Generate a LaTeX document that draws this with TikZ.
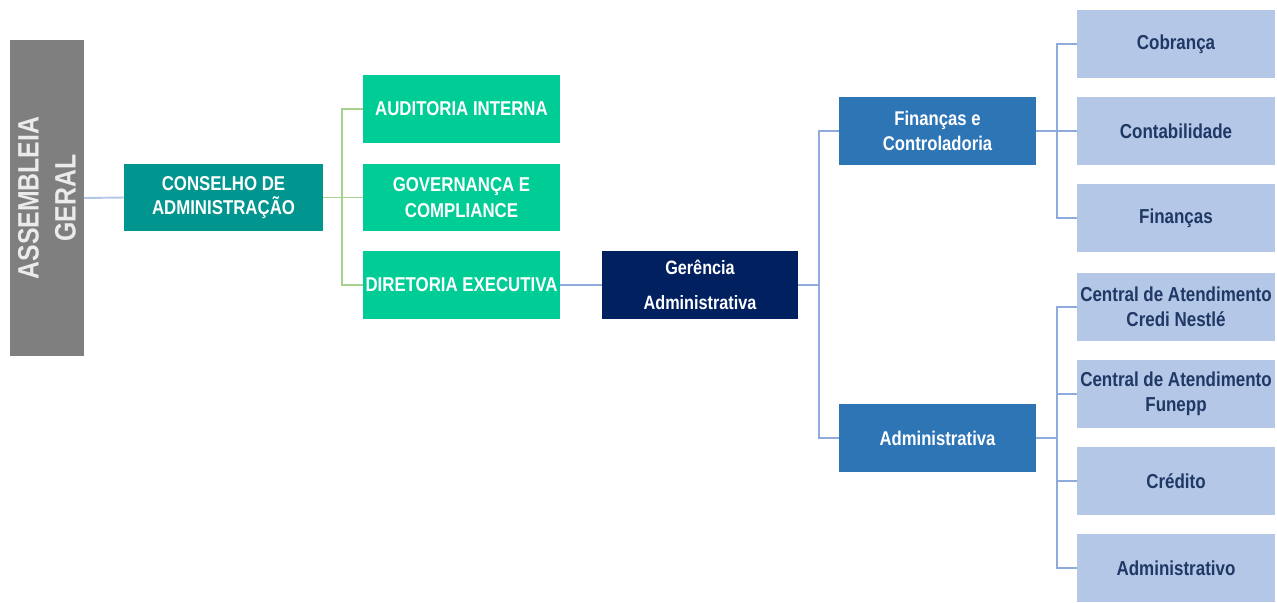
\documentclass[tikz,border=0pt]{standalone}
\usepackage{fontspec}
\setmainfont{Liberation Sans}[FakeStretch=0.84]
\definecolor{cinza}{HTML}{7F7F7F}
\definecolor{petroleo}{HTML}{00968F}
\definecolor{verde}{HTML}{00CC96}
\definecolor{marinho}{HTML}{002060}
\definecolor{azul}{HTML}{2E75B6}
\definecolor{azulclaro}{HTML}{B4C7E7}
\definecolor{textoazul}{HTML}{1F3864}
\definecolor{linhaverde}{HTML}{A9D18E}
\definecolor{linhaazul}{HTML}{8FAADC}
\begin{document}
\begin{tikzpicture}
	  [
	    x                       = 0.02cm,
	    y                       = -0.02cm,
	    every node/.style       = {inner sep=0pt, outer sep=0pt, align=center,
	                               font=\bfseries\fontsize{11}{14}\selectfont},
	    caixa/.style            = {minimum width=3.94cm, minimum height=1.36cm},
	    topo/.style             = {fill=cinza, text=white!92!black,
	                               minimum width=6.32cm, minimum height=1.48cm,
	                               font=\bfseries\fontsize{16.8}{21}\selectfont},
	    conselho/.style         = {caixa, fill=petroleo, text=white, minimum width=3.98cm,
	                               font=\bfseries\fontsize{11.4}{14}\selectfont},
	    apoio/.style            = {caixa, fill=verde, text=white,
	                               font=\bfseries\fontsize{11.4}{14.5}\selectfont},
	    gerencia/.style         = {caixa, fill=marinho, text=white,
	                               font=\bfseries\fontsize{11}{20}\selectfont},
	    area/.style             = {caixa, fill=azul, text=white,
	                               font=\bfseries\fontsize{11.3}{14}\selectfont},
	    setor/.style            = {caixa, fill=azulclaro, text=textoazul, minimum width=3.96cm,
	                               font=\bfseries\fontsize{11.5}{14.5}\selectfont},
	    ramo/.style             = {draw=linhaazul, line width=1.1pt},
	    ramoverde/.style        = {draw=linhaverde, line width=1.1pt}
		]
		\useasboundingbox (0,0) rectangle (1277,602);

		% conselho e orgaos de apoio
		\node[topo, rotate=90] (AG) at (47,198) {ASSEMBLEIA\\GERAL};
		\node[conselho] (CA) at (223.5,197.5) {CONSELHO DE\\ADMINISTRAÇÃO};
		\node[apoio] (AI) at (461.5,109) {AUDITORIA INTERNA};
		\node[apoio] (GC) at (461.5,197.5) {GOVERNANÇA E\\COMPLIANCE};
		\node[apoio] (DE) at (461.5,285) {DIRETORIA EXECUTIVA};

		% gerencia e areas
		\node[gerencia] (GA) at (700,285) {Gerência\\Administrativa};
		\node[area] (FC) at (937.5,131) {Finanças e\\Controladoria};
		\node[area] (AD) at (937.5,438) {Administrativa};

		% setores
		\node[setor] (CO) at (1176,44) {Cobrança};
		\node[setor] (CT) at (1176,131) {Contabilidade};
		\node[setor] (FI) at (1176,218) {Finanças};
		\node[setor] (CN) at (1176,307) {Central de Atendimento\\Credi Nestlé};
		\node[setor] (CF) at (1176,394) {Central de Atendimento\\Funepp};
		\node[setor] (CR) at (1176,481) {Crédito};
		\node[setor] (AV) at (1176,568) {Administrativo};

		% pontos de ramificacao
		\coordinate (b1) at (342,197.5);
		\coordinate (b2) at (819,285);
		\coordinate (b3) at (1057,131);
		\coordinate (b4) at (1057,438);

		\draw[draw=azulclaro, line width=1.1pt] (AG.south) -- (CA.west);
		\draw[ramoverde] (CA.east) -- (b1);
		\foreach \filho in {AI,GC,DE}
			\draw[ramoverde] (b1) |- (\filho.west);
		\draw[ramo] (DE.east) -- (GA.west);
		\draw[ramo] (GA.east) -- (b2);
		\foreach \filho in {FC,AD}
			\draw[ramo] (b2) |- (\filho.west);
		\draw[ramo] (FC.east) -- (b3);
		\foreach \filho in {CO,CT,FI}
			\draw[ramo] (b3) |- (\filho.west);
		\draw[ramo] (AD.east) -- (b4);
		\foreach \filho in {CN,CF,CR,AV}
			\draw[ramo] (b4) |- (\filho.west);
	\end{tikzpicture}
\end{document}
